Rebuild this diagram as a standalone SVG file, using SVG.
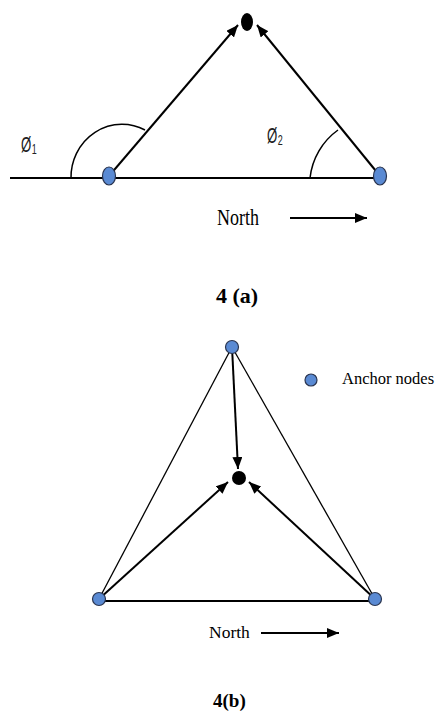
<svg xmlns="http://www.w3.org/2000/svg" width="441" height="713" viewBox="0 0 441 713">
<style>
.anchor{fill:#5a8ad3;stroke:#2a3550;stroke-width:1.2}
.dot{fill:#000}
.thick{stroke:#000;stroke-width:2;fill:none}
.thin{stroke:#000;stroke-width:1.3;fill:none}
.arc{stroke:#000;stroke-width:1.5;fill:none}
.tnr{font-family:"Liberation Serif",serif;fill:#000}
.sans{font-family:"Liberation Sans",sans-serif;fill:#222}
</style>
<defs>
<marker id="ah" viewBox="0 0 12 10" refX="12" refY="5" markerWidth="12" markerHeight="10" markerUnits="userSpaceOnUse" orient="auto">
<path d="M0,0 L12,5 L0,10 z" fill="#000"/>
</marker>
</defs>
<rect width="441" height="713" fill="#fff"/>

<!-- Figure 4(a) -->
<g id="connectors-a">
<line class="thick" x1="10" y1="178" x2="380" y2="178"/>
<path class="arc" d="M71,178 A51 53 0 0 1 145,130"/>
<path class="arc" d="M310,178 A66 68 0 0 1 338,130"/>
<line class="thick" x1="109" y1="176" x2="238" y2="25" marker-end="url(#ah)"/>
<line class="thick" x1="380" y1="176" x2="257" y2="25" marker-end="url(#ah)"/>
<line class="thick" x1="290" y1="218" x2="367" y2="218" marker-end="url(#ah)"/>
</g>
<g id="node-a-target"><ellipse class="dot" cx="247" cy="22" rx="6" ry="9"/></g>
<g id="node-a-left"><ellipse class="anchor" cx="109" cy="176" rx="6.5" ry="9"/></g>
<g id="node-a-right"><ellipse class="anchor" cx="380" cy="176" rx="6.5" ry="9"/></g>
<g id="label-phi1" transform="translate(21,152) scale(0.6,1)">
<text class="sans" x="0" y="0" font-size="22">Ø</text>
<text class="sans" x="18" y="2" font-size="15">1</text>
</g>
<g id="label-phi2" transform="translate(267,143) scale(0.6,1)">
<text class="sans" x="0" y="0" font-size="22">Ø</text>
<text class="sans" x="18" y="2" font-size="15">2</text>
</g>
<g id="label-north-a" transform="translate(217,225) scale(1,1.3)">
<text class="tnr" x="0" y="0" font-size="18">North</text>
</g>
<g id="caption-a"><text class="tnr" x="216" y="303" font-size="22" font-weight="bold">4 (a)</text></g>

<!-- Figure 4(b) -->
<g id="connectors-b">
<line class="thin" x1="232" y1="347" x2="99" y2="599"/>
<line class="thin" x1="232" y1="347" x2="375" y2="599"/>
<line class="thick" x1="99" y1="601" x2="375" y2="601" stroke="#333"/>
<line class="thick" x1="232" y1="347" x2="238" y2="469" marker-end="url(#ah)"/>
<line class="thick" x1="99" y1="599" x2="228" y2="482" marker-end="url(#ah)"/>
<line class="thick" x1="375" y1="599" x2="249" y2="482" marker-end="url(#ah)"/>
<line class="thick" x1="261" y1="633" x2="339" y2="633" marker-end="url(#ah)"/>
</g>
<g id="node-b-top"><circle class="anchor" cx="232" cy="347" r="6.5"/></g>
<g id="node-b-left"><circle class="anchor" cx="99" cy="599" r="6.5"/></g>
<g id="node-b-right"><circle class="anchor" cx="375" cy="599" r="6.5"/></g>
<g id="node-b-target"><circle class="dot" cx="239" cy="478" r="7"/></g>
<g id="legend">
<circle class="anchor" cx="311" cy="380" r="6"/>
<text class="tnr" x="342" y="384" font-size="16.5">Anchor nodes</text>
</g>
<g id="label-north-b"><text class="tnr" x="209" y="638" font-size="17.5">North</text></g>
<g id="caption-b"><text class="tnr" x="213" y="707" font-size="19" font-weight="bold">4(b)</text></g>
</svg>
